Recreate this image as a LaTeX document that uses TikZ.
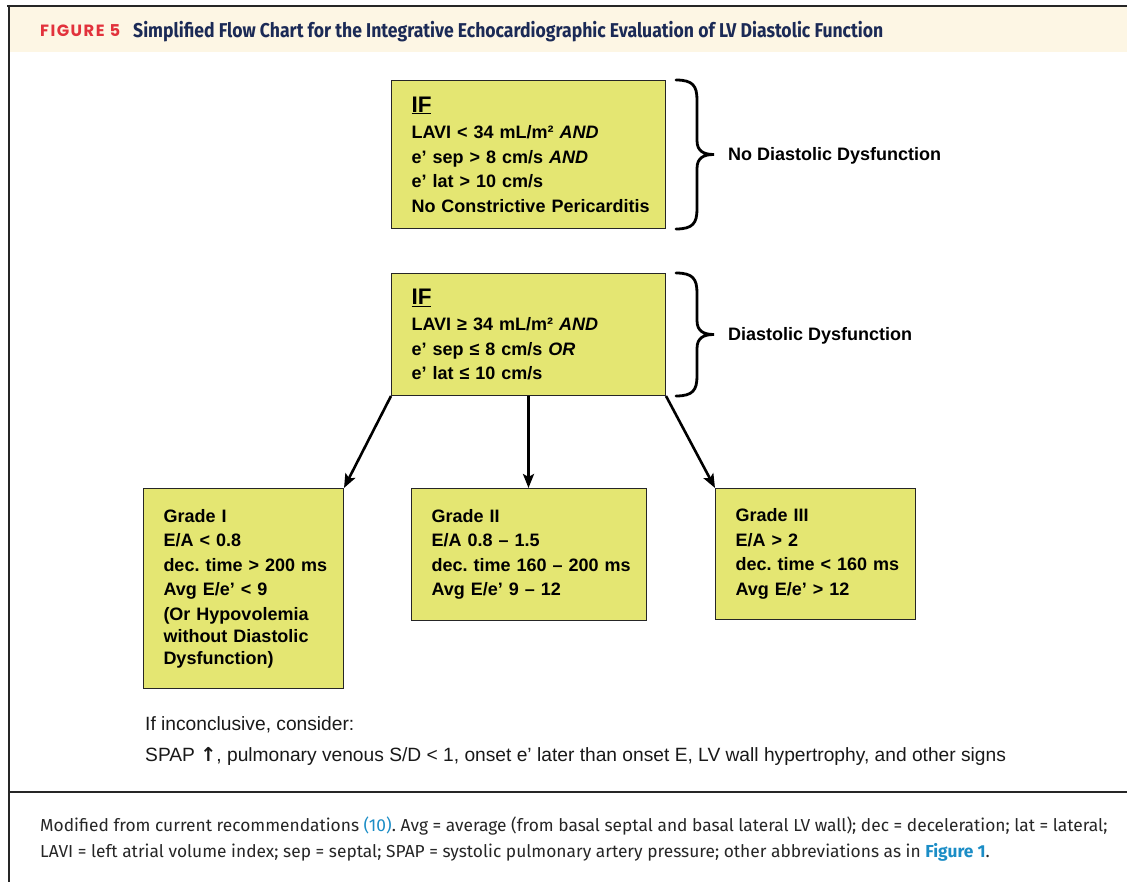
\documentclass[tikz,border=0pt]{standalone}
\usepackage{fontspec}
\setmainfont{Liberation Sans}
\newfontfamily\capfont{Fira Sans}
\newfontfamily\titlefont[FakeStretch=0.88]{Fira Sans}
\newfontfamily\figfont[LetterSpace=9]{Poppins}
\newfontfamily\arrowfont{DejaVu Sans}
\usetikzlibrary{arrows.meta,calc}
\definecolor{cream}{HTML}{FDF6E4}
\definecolor{figred}{HTML}{E2323C}
\definecolor{navy}{HTML}{1B2A56}
\definecolor{boxyellow}{HTML}{E4E672}
\definecolor{linkblue}{HTML}{1B8DC6}
\definecolor{captext}{HTML}{262626}
\newcommand\oneline[1]{\mbox{#1}}
\tikzset{
  ybox/.style={draw=black!85, line width=1pt, fill=boxyellow, anchor=north west,
    align=left, inner xsep=20pt, inner ysep=0pt,
    font=\bfseries\fontsize{18}{24.5}\selectfont},
  arr/.style={line width=2.6pt, -{Stealth[length=14pt,width=11pt,inset=3pt]}},
  bracestyle/.style={line width=2.8pt, line cap=round},
  sidelabel/.style={anchor=base west, inner sep=0pt, font=\bfseries\fontsize{18}{20}\selectfont},
  plain/.style={anchor=base west, inner sep=0pt},
}
\newcommand\mybrace[1]{%
  \draw[bracestyle]
    let \p1=(#1.north east), \p2=(#1.south east), \p3=(#1.east) in
    ($(\x1,\y1)+(10,0)$) .. controls ($(\x1,\y1)+(27,0)$) and ($(\x1,\y1)+(31,6)$) .. ($(\x1,\y1)+(31,20)$)
    -- ($(\x3,\y3)+(31,-14)$) .. controls ($(\x3,\y3)+(31,-3)$) and ($(\x3,\y3)+(38,0)$) .. ($(\x3,\y3)+(48,0)$)
    .. controls ($(\x3,\y3)+(38,0)$) and ($(\x3,\y3)+(31,3)$) .. ($(\x3,\y3)+(31,14)$)
    -- ($(\x2,\y2)+(31,-20)$) .. controls ($(\x2,\y2)+(31,-6)$) and ($(\x2,\y2)+(27,0)$) .. ($(\x2,\y2)+(10,0)$);
}
\begin{document}
\frenchspacing
\begin{tikzpicture}[x=1pt,y=-1pt]
\useasboundingbox (0,0) rectangle (1127,882);
\fill[white] (0,0) rectangle (1127,882);
% header
\fill[cream] (9,7) rectangle (1127,52);
\draw[line width=2pt, black!85] (7,6) -- (1127,6);
\draw[line width=2pt, black!85] (8.5,5) -- (8.5,882);
\draw[line width=1.5pt, black!85] (8,792) -- (1127,792);
\node[plain, text=figred, font=\figfont\bfseries\fontsize{16.3}{18}\selectfont] (fig) at (40,37) {FIGURE 5};
\node[plain, text=navy, font=\titlefont\bfseries\fontsize{20}{22}\selectfont] (title) at (133,37.5) {Simplified Flow Chart for the Integrative Echocardiographic Evaluation of LV Diastolic Function};

% boxes
\node[ybox, text width=234pt, minimum width=274pt, minimum height=148pt] (b1) at (391,80)
 {{\fontsize{22.5}{24}\selectfont\underline{IF}}\\[2pt]
  \oneline{LAVI < 34 mL/m² \textit{AND}}\\
  \oneline{e’ sep > 8 cm/s \textit{AND}}\\
  \oneline{e’ lat > 10 cm/s}\\
  \oneline{No Constrictive Pericarditis}};
\node[ybox, text width=234pt, minimum width=274pt, minimum height=122pt] (b2) at (391,273)
 {{\fontsize{22.5}{24}\selectfont\underline{IF}}\\[2pt]
  \oneline{LAVI ≥ 34 mL/m² \textit{AND}}\\
  \oneline{e’ sep ≤ 8 cm/s \textit{OR}}\\
  \oneline{e’ lat ≤ 10 cm/s}};
\mybrace{b1}
\mybrace{b2}
\node[sidelabel] (l1) at ($(b1.east)+(62,6)$) {No Diastolic Dysfunction};
\node[sidelabel] (l2) at ($(b2.east)+(62,6.5)$) {Diastolic Dysfunction};

\node[ybox, text width=160pt, minimum width=200pt, minimum height=200pt] (g1) at (143,488)
 {\oneline{Grade I}\\
  \oneline{E/A < 0.8}\\
  \oneline{dec. time > 200 ms}\\
  \oneline{Avg E/e’ < 9}\\
  \oneline{(Or Hypovolemia}\\[-2.5pt]
  \oneline{without Diastolic}\\[-2.5pt]
  \oneline{Dysfunction)}};
\node[ybox, text width=195pt, minimum width=235pt, minimum height=132pt] (g2) at (411,488)
 {\oneline{Grade II}\\
  \oneline{E/A 0.8 – 1.5}\\
  \oneline{dec. time 160 – 200 ms}\\
  \oneline{Avg E/e’ 9 – 12}};
\node[ybox, text width=160pt, minimum width=200pt, minimum height=131pt] (g3) at (715,488)
 {\oneline{Grade III}\\
  \oneline{E/A > 2}\\
  \oneline{dec. time < 160 ms}\\
  \oneline{Avg E/e’ > 12}};

\draw[arr] (b2.south west) -- (g1.north east);
\draw[arr] (b2.south) -- (b2.south |- g2.north);
\draw[arr] (b2.south east) -- (g3.north west);

% bottom text
\node[plain, text=black!90, font=\fontsize{19.2}{22}\selectfont] (inc) at (145,730) {If inconclusive, consider:};
\node[plain, text=black!90, font=\fontsize{19.2}{22}\selectfont] (spap) at (145,761) {SPAP {\arrowfont\bfseries ↑}, pulmonary venous S/D < 1, onset e’ later than onset E, LV wall hypertrophy, and other signs};

% caption
\node[plain, text=captext, font=\capfont\fontsize{17.35}{20}\selectfont] (cap1) at (40,831) {Modified from current recommendations \textcolor{linkblue}{(10)}. Avg = average (from basal septal and basal lateral LV wall); dec = deceleration; lat = lateral;};
\node[plain, text=captext, font=\capfont\fontsize{17.35}{20}\selectfont] (cap2) at (40,857) {LAVI = left atrial volume index; sep = septal; SPAP = systolic pulmonary artery pressure; other abbreviations as in \textcolor{linkblue}{\bfseries Figure 1}.};
\end{tikzpicture}
\end{document}
